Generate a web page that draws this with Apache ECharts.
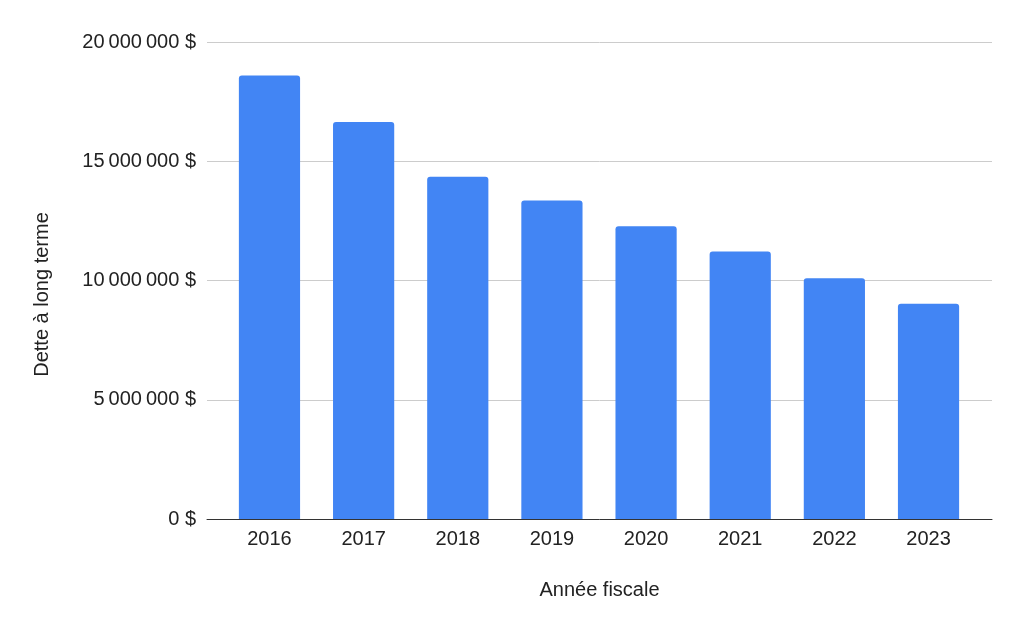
<!DOCTYPE html>
<html>
<head>
<meta charset="utf-8">
<script src="https://cdn.jsdelivr.net/npm/echarts@6/dist/echarts.min.js"></script>
<style>
  html, body { margin: 0; padding: 0; background: #fff; }
  #chart { width: 1024px; height: 633px; }
</style>
</head>
<body>
<div id="chart"></div>
<script>
const years = ['2016', '2017', '2018', '2019', '2020', '2021', '2022', '2023'];
const debt = [18600000, 16650000, 14350000, 13350000, 12270000, 11220000, 10090000, 9020000];
const yTicks = [0, 5000000, 10000000, 15000000, 20000000];

var chartDom = document.getElementById('chart');
var myChart = echarts.init(chartDom);

const fontFamily = 'Liberation Sans, Arial, Helvetica, sans-serif';
const textColor = '#222222';

function fmtMoney(v) {
  // French style grouping with narrow no-break spaces
  var s = String(Math.round(v));
  s = s.replace(/\B(?=(\d{3})+(?!\d))/g, '\u202f');
  return s + ' $';
}

var option = {
  animation: false,
  backgroundColor: '#ffffff',
  textStyle: { fontFamily: fontFamily },
  grid: [
    { left: 207, right: 32, top: 42, bottom: 114 },
    { left: 222.4, right: 48.4, top: 42, bottom: 114 }
  ],
  xAxis: [
    {
      gridIndex: 0,
      type: 'value',
      min: 0,
      max: 1,
      z: 5,
      axisLine: { show: true, onZero: false, lineStyle: { color: '#333333', width: 1 } },
      axisTick: { show: false },
      axisLabel: { show: false },
      splitLine: { show: false },
      name: 'Année fiscale',
      nameLocation: 'middle',
      nameGap: 61,
      nameTextStyle: { fontSize: 20, color: textColor, fontFamily: fontFamily }
    },
    {
      gridIndex: 1,
      type: 'category',
      data: years,
      axisLine: { show: false },
      axisTick: { show: false },
      axisLabel: { fontSize: 20, color: textColor, margin: 10, fontFamily: fontFamily }
    }
  ],
  yAxis: [
    {
      gridIndex: 0,
      type: 'value',
      min: 0,
      max: yTicks[yTicks.length - 1],
      interval: yTicks[1] - yTicks[0],
      axisLine: { show: false },
      axisTick: { show: false },
      axisLabel: {
        fontSize: 20,
        color: textColor,
        margin: 11,
        fontFamily: fontFamily,
        formatter: fmtMoney
      },
      splitLine: { lineStyle: { color: '#cccccc', width: 1 } },
      name: 'Dette à long terme',
      nameLocation: 'middle',
      nameRotate: 90,
      nameGap: 155,
      nameTextStyle: {
        fontSize: 20,
        color: textColor,
        fontFamily: fontFamily,
        padding: [0, 28, 0, 0]
      }
    },
    {
      gridIndex: 1,
      type: 'value',
      min: 0,
      max: yTicks[yTicks.length - 1],
      show: false,
      splitLine: { show: false }
    }
  ],
  series: [
    {
      type: 'bar',
      xAxisIndex: 1,
      yAxisIndex: 1,
      data: debt,
      barWidth: '65%',
      itemStyle: { color: '#4285f4', borderRadius: [3, 3, 0, 0] }
    }
  ]
};

myChart.setOption(option);
</script>
</body>
</html>
